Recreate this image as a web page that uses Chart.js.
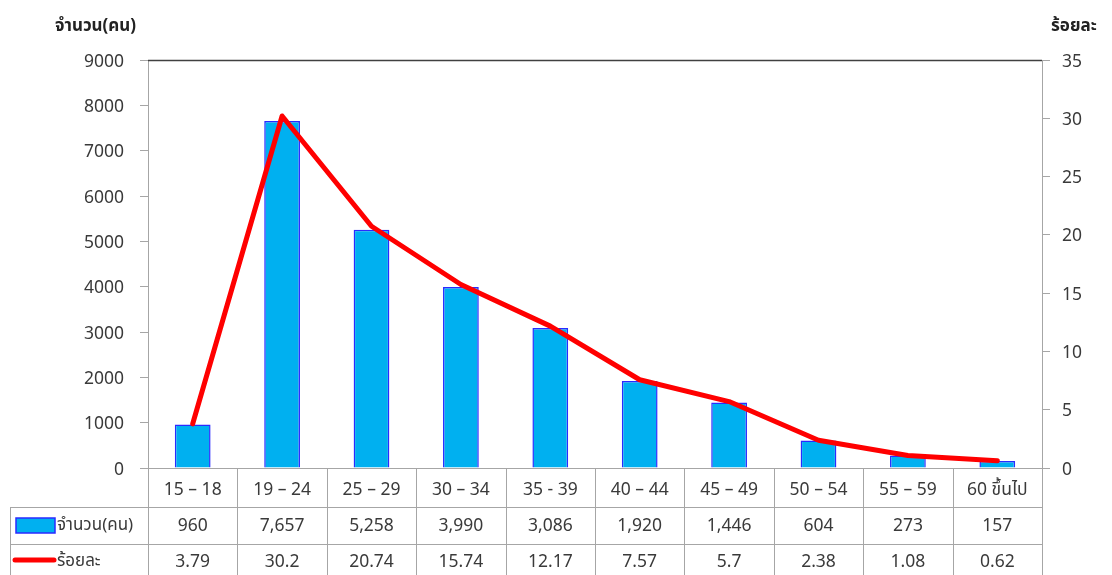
<!DOCTYPE html>
<html>
<head>
<meta charset="utf-8">
<script src="https://cdn.jsdelivr.net/npm/chart.js@4.4.1/dist/chart.umd.min.js"></script>
<style>
  body { margin: 0; background: #fff; }
  #wrap { width: 1112px; height: 575px; position: relative; }
</style>
</head>
<body>
<div id="wrap"><canvas id="ageChart"></canvas></div>
<script>
// ข้อมูลจากภาพ
const ageGroups = ["15 – 18", "19 – 24", "25 – 29", "30 – 34", "35 - 39", "40 – 44", "45 – 49", "50 – 54", "55 – 59", "60 ขึ้นไป"];
const counts = [960, 7657, 5258, 3990, 3086, 1920, 1446, 604, 273, 157];
const percents = [3.79, 30.2, 20.74, 15.74, 12.17, 7.57, 5.7, 2.38, 1.08, 0.62];
const countLabel = "จำนวน(คน)";
const percentLabel = "ร้อยละ";

const FONT = "Tahoma, 'Noto Sans Thai', 'Noto Sans', 'DejaVu Sans', sans-serif";
const TEXT = "#3a3a3a";
const LINE_GRAY = "#a6a6a6";
const BAR_FILL = "#00b0f0";
const BAR_EDGE = "#2a2aff";

Chart.defaults.font.family = FONT;
Chart.defaults.font.size = 17;
Chart.defaults.color = TEXT;

// ตารางข้อมูลใต้กราฟ + ชื่อแกน
const dataTablePlugin = {
  id: "dataTable",
  afterDraw(chart) {
    const ctx = chart.ctx;
    const area = chart.chartArea;
    const x = chart.scales.x;
    const n = ageGroups.length;
    const step = (area.right - area.left) / n;
    const rowTop = area.bottom;
    const row1 = rowTop + 39;
    const row2 = row1 + 37;
    const bottom = chart.height + 2;
    const tableLeft = 10;

    ctx.save();

    // เส้นขอบบนของพื้นที่กราฟ
    ctx.strokeStyle = "#404040";
    ctx.lineWidth = 1.5;
    ctx.beginPath();
    ctx.moveTo(area.left, area.top + 0.5);
    ctx.lineTo(area.right, area.top + 0.5);
    ctx.stroke();

    // เส้นตาราง
    ctx.strokeStyle = LINE_GRAY;
    ctx.lineWidth = 1;
    ctx.beginPath();
    for (let i = 0; i <= n; i++) {
      const lx = Math.round(area.left + step * i) + 0.5;
      ctx.moveTo(lx, rowTop);
      ctx.lineTo(lx, bottom);
    }
    ctx.moveTo(tableLeft + 0.5, row1);
    ctx.lineTo(tableLeft + 0.5, bottom);
    [row1, row2].forEach(y => {
      ctx.moveTo(tableLeft, Math.round(y) + 0.5);
      ctx.lineTo(area.right, Math.round(y) + 0.5);
    });
    ctx.stroke();

    // ข้อความในตาราง
    ctx.font = "17.5px " + FONT;
    ctx.fillStyle = TEXT;
    ctx.textAlign = "center";
    ctx.textBaseline = "middle";
    ageGroups.forEach((g, i) => {
      const cx = x.getPixelForValue(i);
      ctx.fillText(g, cx, rowTop + 23);
      ctx.fillText(counts[i].toLocaleString("en-US"), cx, row1 + 20);
      ctx.fillText(String(percents[i]), cx, row2 + 19);
    });

    // สัญลักษณ์คำอธิบาย
    ctx.fillStyle = BAR_FILL;
    ctx.strokeStyle = BAR_EDGE;
    ctx.lineWidth = 1.5;
    ctx.fillRect(16, row1 + 11, 39, 15);
    ctx.strokeRect(16, row1 + 11, 39, 15);

    ctx.strokeStyle = "#ff0000";
    ctx.lineWidth = 5;
    ctx.lineCap = "round";
    ctx.beginPath();
    ctx.moveTo(15, row2 + 16);
    ctx.lineTo(54, row2 + 16);
    ctx.stroke();

    ctx.fillStyle = TEXT;
    ctx.textAlign = "left";
    ctx.font = "17px " + FONT;
    ctx.fillText(countLabel, 57, row1 + 20);
    ctx.fillText(percentLabel, 57, row2 + 19);

    // ชื่อแกน
    ctx.font = "bold 17px " + FONT;
    ctx.fillStyle = "#222222";
    ctx.textAlign = "left";
    ctx.fillText(countLabel, 55, 28);
    ctx.fillText(percentLabel, 1051, 28);

    ctx.restore();
  }
};

const ctx = document.getElementById("ageChart").getContext("2d");
const ageChart = new Chart(ctx, {
  data: {
    labels: ageGroups,
    datasets: [
      {
        type: "line",
        label: percentLabel,
        data: percents,
        yAxisID: "yPct",
        borderColor: "#ff0000",
        borderWidth: 5,
        pointRadius: 0,
        tension: 0,
        borderCapStyle: "round",
        borderJoinStyle: "round",
        order: 0
      },
      {
        type: "bar",
        label: countLabel,
        data: counts,
        yAxisID: "y",
        backgroundColor: BAR_FILL,
        borderColor: BAR_EDGE,
        borderWidth: 1.5,
        categoryPercentage: 1,
        barPercentage: 0.4,
        order: 1
      }
    ]
  },
  options: {
    responsive: true,
    maintainAspectRatio: false,
    animation: false,
    layout: { padding: { top: 60, left: 0, right: 0, bottom: 0 } },
    plugins: {
      legend: { display: false },
      tooltip: { enabled: false }
    },
    scales: {
      x: {
        ticks: { display: false },
        grid: { display: false },
        border: { display: true, color: LINE_GRAY },
        afterFit(scale) { scale.height = 107; }
      },
      y: {
        position: "left",
        min: 0,
        max: 9000,
        ticks: { stepSize: 1000, padding: 16, labelOffset: 3, color: TEXT, font: { size: 17.5 }, callback: v => String(v) },
        grid: { drawOnChartArea: false, tickLength: 8, color: LINE_GRAY },
        border: { display: true, color: LINE_GRAY },
        afterFit(scale) { scale.width = 148; }
      },
      yPct: {
        position: "right",
        min: 0,
        max: 35,
        ticks: { stepSize: 5, padding: 12, labelOffset: 3, color: TEXT, font: { size: 17.5 }, callback: v => String(v) },
        grid: { drawOnChartArea: false, tickLength: 8, color: LINE_GRAY },
        border: { display: true, color: LINE_GRAY },
        afterFit(scale) { scale.width = 70; }
      }
    }
  },
  plugins: [dataTablePlugin]
});
</script>
</body>
</html>
